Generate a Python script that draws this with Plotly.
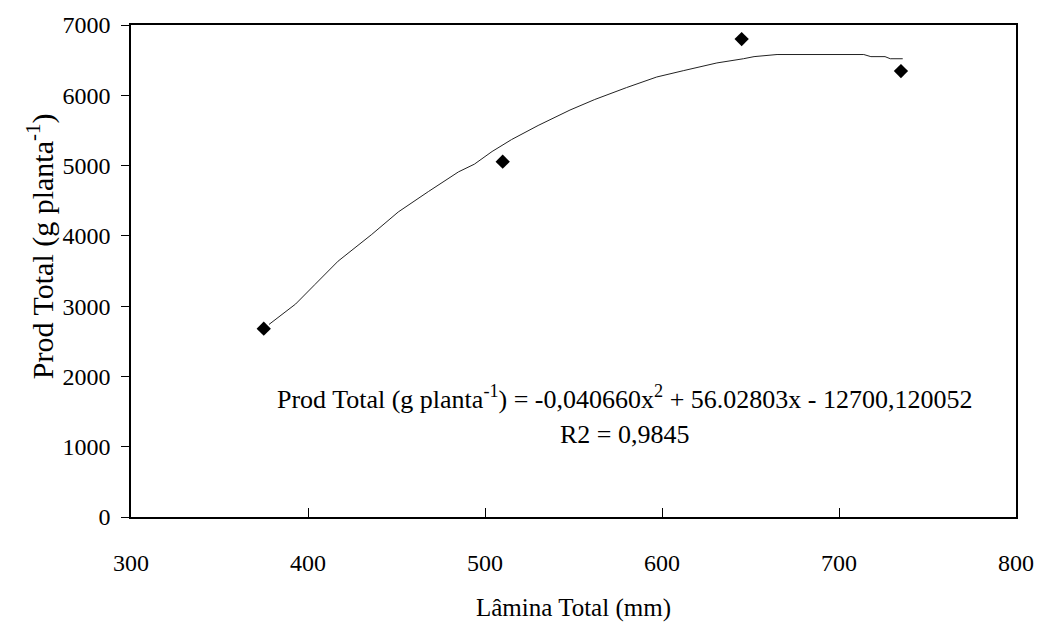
import plotly.graph_objects as go

# Observed data points
lamina = [375, 510, 645, 735]
prod = [2680, 5055, 6800, 6345]

# Trend line
trend_x = [378, 393, 404, 417, 436, 451, 468, 485, 494, 504, 515, 530, 548, 562,
           580, 597, 612, 631, 646, 652, 665, 690, 714, 718, 726, 729, 736]
trend_y = [2740, 3030, 3310, 3640, 4020, 4340, 4630, 4910, 5020, 5200, 5370, 5570,
           5790, 5940, 6110, 6260, 6350, 6460, 6520, 6550, 6580, 6580, 6580, 6550,
           6550, 6520, 6520]

x_ticks = [300, 400, 500, 600, 700, 800]
y_ticks = [0, 1000, 2000, 3000, 4000, 5000, 6000, 7000]

eq_text = "Prod Total (g planta<sup>-1</sup>) = -0,040660x<sup>2</sup> + 56.02803x - 12700,120052"
r2_text = "R2 = 0,9845"
x_title = "Lâmina Total (mm)"
y_title = "Prod Total (g planta<sup>-1</sup>)"

FONT = "Liberation Serif, Times New Roman, serif"

fig = go.Figure()
fig.add_trace(go.Scatter(x=trend_x, y=trend_y, mode="lines",
                         line=dict(color="#222222", width=1), showlegend=False,
                         hoverinfo="skip"))
fig.add_trace(go.Scatter(x=lamina, y=prod, mode="markers",
                         marker=dict(symbol="diamond", size=11, color="black"),
                         showlegend=False))

fig.add_annotation(x=579, y=1700, xref="x", yref="y", text=eq_text, showarrow=False,
                   xanchor="center", yanchor="middle",
                   font=dict(family=FONT, size=26, color="black"))
fig.add_annotation(x=579, y=1170, xref="x", yref="y", text=r2_text, showarrow=False,
                   xanchor="center", yanchor="middle",
                   font=dict(family=FONT, size=26, color="black"))

# axis titles
fig.add_annotation(x=0.5, y=-0.184, xref="paper", yref="paper", text=x_title,
                   xanchor="center", yanchor="middle",
                   showarrow=False, font=dict(family=FONT, size=25, color="black"))
fig.add_annotation(x=-0.102, y=0.55, xref="paper", yref="paper", text=y_title,
                   xanchor="center", yanchor="middle",
                   textangle=-90, showarrow=False,
                   font=dict(family=FONT, size=30, color="black"))

fig.update_layout(
    width=1046, height=623,
    margin=dict(l=131, r=25, t=23, b=106),
    plot_bgcolor="white", paper_bgcolor="white",
    font=dict(family=FONT, size=24, color="black"),
)
fig.update_xaxes(range=[300, 800], tickvals=x_ticks, ticktext=[str(v) for v in x_ticks],
                 ticks="inside", ticklen=9, tickcolor="black", tickwidth=1,
                 tickfont=dict(family=FONT, size=24),
                 showline=True, linecolor="black", linewidth=1.5, mirror=True,
                 showgrid=False, zeroline=False, ticklabelstandoff=23)
fig.update_yaxes(range=[0, 7000], tickvals=y_ticks, ticktext=[str(v) for v in y_ticks],
                 ticks="outside", ticklen=8, tickcolor="black", tickwidth=1,
                 tickfont=dict(family=FONT, size=24),
                 showline=True, linecolor="black", linewidth=1.5, mirror=True,
                 showgrid=False, zeroline=False, ticklabelstandoff=6)

fig.write_html("out.html")
